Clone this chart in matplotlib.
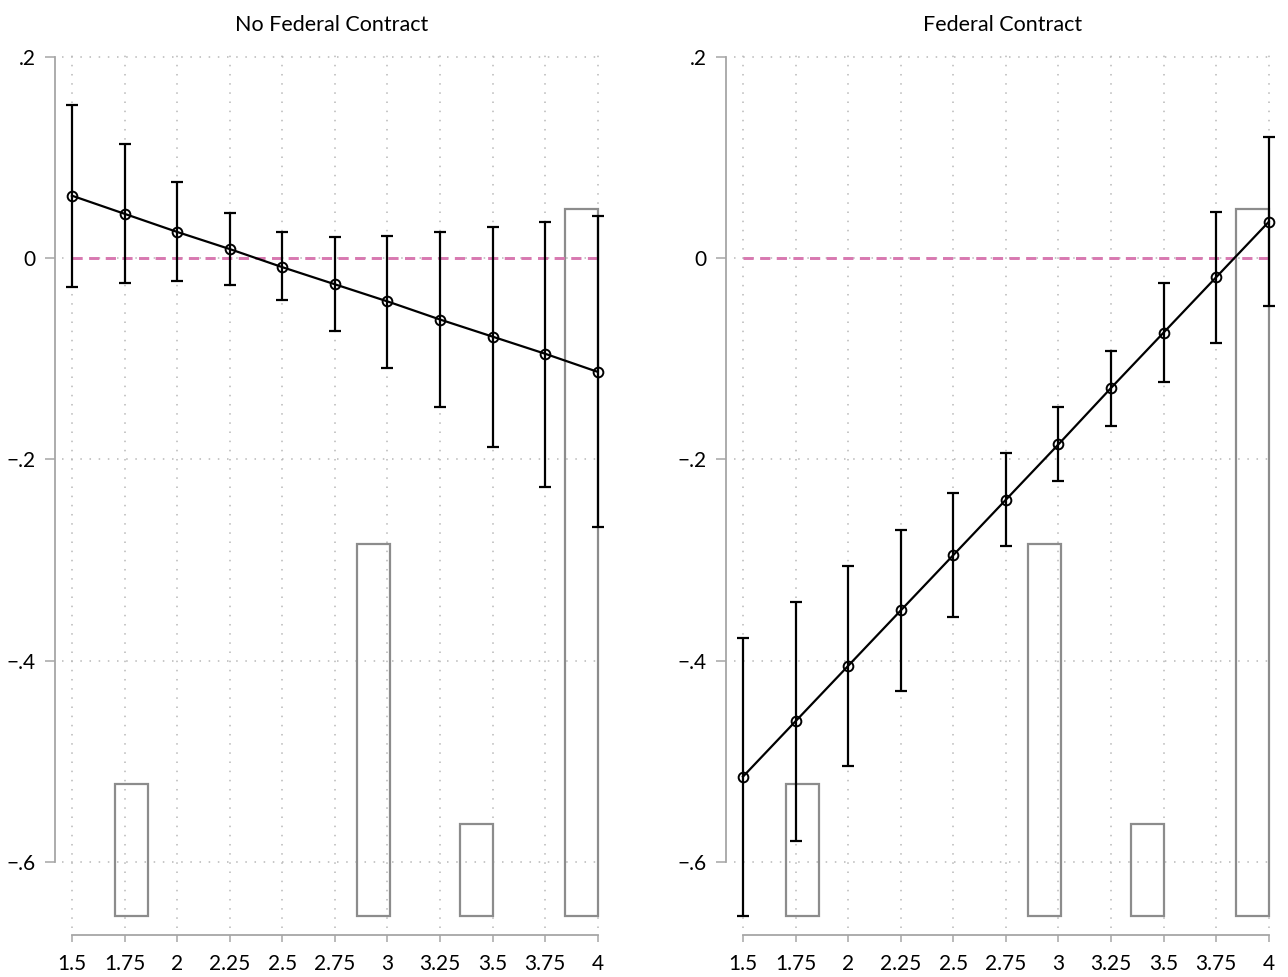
import numpy as np
import matplotlib
matplotlib.use("Agg")
import matplotlib.pyplot as plt

plt.rcParams['font.family'] = ['Lato', 'DejaVu Sans']

# x values (policy score)
x = [1.5, 1.75, 2.0, 2.25, 2.5, 2.75, 3.0, 3.25, 3.5, 3.75, 4.0]

# No federal contract: estimate, upper CI, lower CI
est_nofed = [0.062, 0.044, 0.026, 0.009, -0.009, -0.026, -0.043, -0.061, -0.078, -0.095, -0.113]
hi_nofed = [0.152, 0.113, 0.076, 0.045, 0.026, 0.021, 0.022, 0.026, 0.031, 0.036, 0.042]
lo_nofed = [-0.029, -0.025, -0.023, -0.027, -0.042, -0.072, -0.109, -0.148, -0.188, -0.227, -0.267]

# Federal contract
est_fed = [-0.515, -0.460, -0.405, -0.350, -0.295, -0.240, -0.185, -0.129, -0.074, -0.019, 0.036]
hi_fed = [-0.377, -0.342, -0.306, -0.270, -0.233, -0.194, -0.148, -0.092, -0.025, 0.046, 0.120]
lo_fed = [-0.653, -0.579, -0.504, -0.430, -0.356, -0.286, -0.221, -0.167, -0.123, -0.084, -0.048]

# histogram of x drawn along the bottom (same in both panels)
hist_left = [1.703, 2.855, 3.346, 3.843]
hist_width = 0.157
hist_base = -0.653
hist_top = [-0.522, -0.284, -0.562, 0.049]

yticks = [0.2, 0.0, -0.2, -0.4, -0.6]
ylabels = ['.2', '0', '\u2212.2', '\u2212.4', '\u2212.6']
xticks = [1.5, 1.75, 2, 2.25, 2.5, 2.75, 3, 3.25, 3.5, 3.75, 4]
xlabels = ['1.5', '1.75', '2', '2.25', '2.5', '2.75', '3', '3.25', '3.5', '3.75', '4']

titles = ['No Federal Contract', 'Federal Contract']
series = [(est_nofed, lo_nofed, hi_nofed), (est_fed, lo_fed, hi_fed)]

fig = plt.figure(figsize=(12.88, 9.77), dpi=100)
lefts = [0.0485, 0.5695]

for i in range(2):
    ax = fig.add_axes([lefts[i], 0.0505, 0.418, 0.8966])
    est, lo, hi = series[i]
    est = np.array(est)
    yerr = [est - np.array(lo), np.array(hi) - est]

    ax.set_xlim(1.455, 4.015)
    ax.set_ylim(-0.665, 0.205)
    ax.set_xticks(xticks)
    ax.set_xticklabels(xlabels)
    ax.set_yticks(yticks)
    ax.set_yticklabels(ylabels)

    ax.grid(True, color='#b8b8b8', linestyle=(0, (1, 5)), linewidth=1.1)
    ax.set_axisbelow(True)

    # histogram outline bars
    ax.bar(hist_left, np.array(hist_top) - hist_base, width=hist_width,
           bottom=hist_base, align='edge', facecolor='none',
           edgecolor='#8c8c8c', linewidth=1.6, zorder=2)

    # reference line at zero
    ax.axhline(0, xmin=(1.5 - 1.455) / (4.015 - 1.455), xmax=(4.0 - 1.455) / (4.015 - 1.455),
               color='#d878b0', linestyle=(0, (3.5, 2.2)), linewidth=2.1, zorder=3)

    ax.errorbar(x, est, yerr=yerr, fmt='none', ecolor='black', elinewidth=1.6,
                capsize=4.5, capthick=1.6, zorder=4, clip_on=False)
    ax.plot(x, est, color='black', linewidth=1.6, marker='o', markersize=7,
            markerfacecolor='none', markeredgecolor='black', markeredgewidth=1.4,
            zorder=5, clip_on=False)

    for s in ['top', 'right']:
        ax.spines[s].set_visible(False)
    ax.spines['left'].set_position(('outward', 5.4))
    ax.spines['bottom'].set_position(('outward', 5.3))
    ax.spines['left'].set_bounds(-0.6, 0.2)
    ax.spines['bottom'].set_bounds(1.5, 4.0)
    for s in ['left', 'bottom']:
        ax.spines[s].set_color('#a6a6a6')
        ax.spines[s].set_linewidth(1.3)

    ax.tick_params(axis='x', length=5, width=1.1, color='#a6a6a6', labelsize=15, pad=9)
    ax.tick_params(axis='y', length=7, width=1.1, color='#a6a6a6', labelsize=15, pad=7)

    ax.set_title(titles[i], fontsize=15.5, pad=15)

fig.savefig('out.png', dpi=100)
